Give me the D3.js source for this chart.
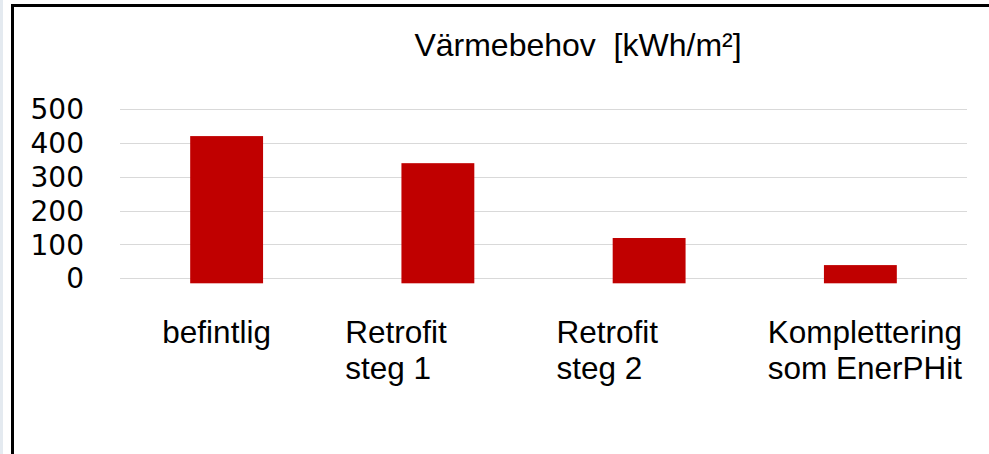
<!DOCTYPE html>
<html>
<head>
<meta charset="utf-8">
<script src="https://cdn.jsdelivr.net/npm/d3@7"></script>
<style>
  body { margin: 0; background: #fff; }
  svg { display: block; }
</style>
</head>
<body>
<svg id="chart"></svg>
<script>
// data
const categories = ["befintlig", "Retrofit\nsteg 1", "Retrofit\nsteg 2", "Komplettering\nsom EnerPHit"];
const values = [420, 340, 119, 39];
const yTicks = [0, 100, 200, 300, 400, 500];
const title = "Värmebehov  [kWh/m²]";

const width = 989, height = 454;
const plotLeft = 121, plotRight = 966;
const plotTop = 109, plotBottom = 278.3;
const barDrop = 5; // bars in the original hang a few px under the 0 line

const svg = d3.select("#chart")
  .attr("width", width)
  .attr("height", height);

// faint strip at the far left + frame
svg.append("rect")
  .attr("x", 0).attr("y", 0)
  .attr("width", 3).attr("height", height)
  .attr("fill", "#e4eaf0");
svg.append("line")
  .attr("x1", 12.5).attr("x2", 12.5)
  .attr("y1", 4).attr("y2", height)
  .attr("stroke", "#000").attr("stroke-width", 3);
svg.append("line")
  .attr("x1", 11).attr("x2", width)
  .attr("y1", 5.5).attr("y2", 5.5)
  .attr("stroke", "#000").attr("stroke-width", 3);

const x = d3.scaleBand()
  .domain(categories)
  .range([plotLeft, plotRight])
  .paddingInner(0.655)
  .paddingOuter(0.3275);

const y = d3.scaleLinear()
  .domain([0, 500])
  .range([plotBottom, plotTop]);

// gridlines
svg.append("g")
  .selectAll("line")
  .data(yTicks)
  .join("line")
    .attr("x1", plotLeft - 1)
    .attr("x2", plotRight + 1)
    .attr("y1", d => Math.round(y(d)) + 0.5)
    .attr("y2", d => Math.round(y(d)) + 0.5)
    .attr("stroke", "#d9d9d9")
    .attr("stroke-width", 1.2);

// y tick labels
svg.append("g")
  .selectAll("text")
  .data(yTicks)
  .join("text")
    .attr("x", 84)
    .attr("y", d => y(d))
    .attr("dy", "0.36em")
    .attr("text-anchor", "end")
    .attr("font-family", "DejaVu Sans, Verdana, sans-serif")
    .attr("font-size", 28)
    .attr("fill", "#000")
    .text(d => d);

// bars
svg.append("g")
  .selectAll("rect")
  .data(values)
  .join("rect")
    .attr("x", (d, i) => x(categories[i]))
    .attr("width", x.bandwidth())
    .attr("y", d => y(d))
    .attr("height", d => y(0) - y(d) + barDrop)
    .attr("fill", "#c00000");

// title
svg.append("text")
  .attr("x", 578)
  .attr("y", 56)
  .attr("text-anchor", "middle")
  .attr("font-family", "Liberation Sans, Arial, sans-serif")
  .attr("font-size", 32)
  .attr("fill", "#000")
  .style("white-space", "pre")
  .text(title);

// category labels (left aligned, wrapped)
const labelG = svg.append("g")
  .attr("font-family", "Liberation Sans, Arial, sans-serif")
  .attr("font-size", 31.5)
  .attr("fill", "#000");

categories.forEach(cat => {
  const lines = cat.split("\n");
  const bandStart = x(cat) - x.step() * x.paddingInner() / 2;
  const t = labelG.append("text").attr("y", 343);
  lines.forEach((ln, j) => {
    t.append("tspan")
      .attr("y", 343 + j * 36)
      .text(ln);
  });
  if (lines.length > 1) {
    t.selectAll("tspan").attr("x", bandStart + 13);
  } else {
    const w = t.node().getComputedTextLength();
    t.selectAll("tspan").attr("x", x(cat) + x.bandwidth() / 2 - 10 - w / 2);
  }
});
</script>
</body>
</html>
